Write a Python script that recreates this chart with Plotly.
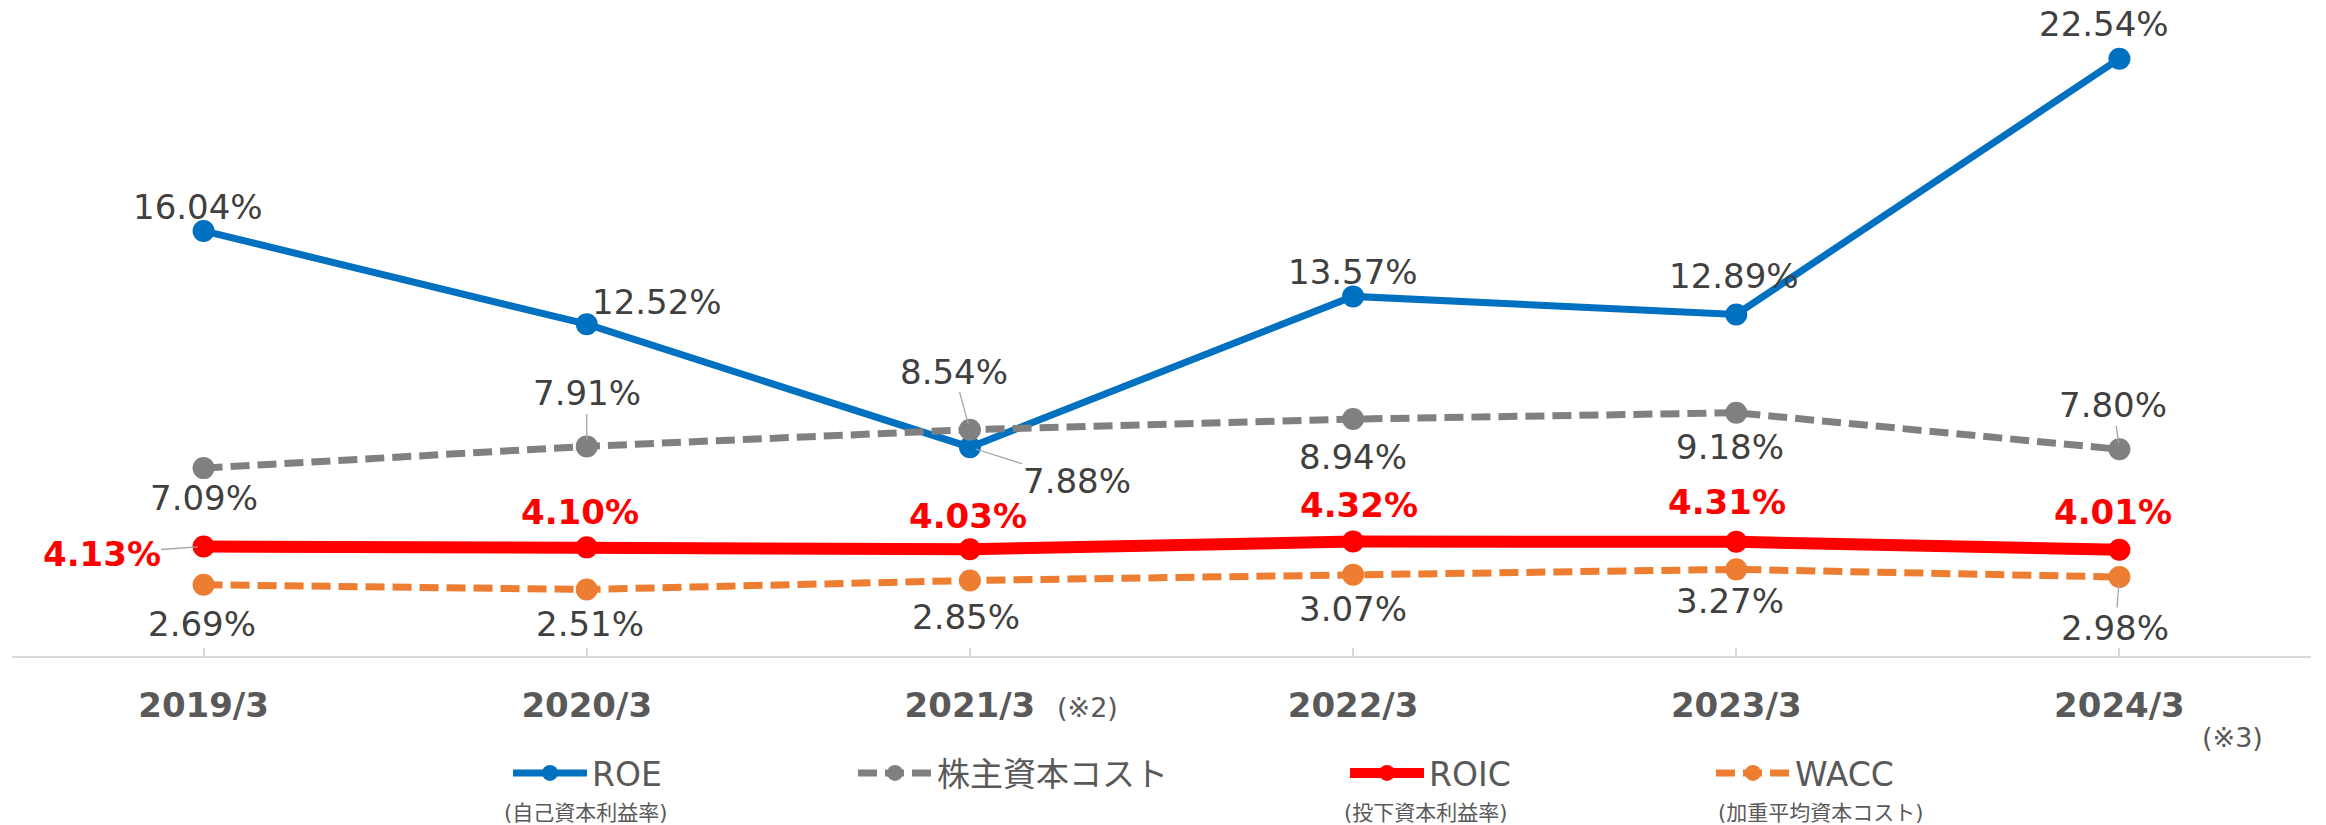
import plotly.graph_objects as go

# ---- data ----
categories = ["2019/3", "2020/3", "2021/3", "2022/3", "2023/3", "2024/3"]
roe = [16.04, 12.52, 7.88, 13.57, 12.89, 22.54]
cost_of_equity = [7.09, 7.91, 8.54, 8.94, 9.18, 7.80]
roic = [4.13, 4.10, 4.03, 4.32, 4.31, 4.01]
wacc = [2.69, 2.51, 2.85, 3.07, 3.27, 2.98]
series_names = ["ROE", "株主資本コスト", "ROIC", "WACC"]
series_notes = ["(自己資本利益率)", "", "(投下資本利益率)", "(加重平均資本コスト)"]
tick_notes = [("2021/3", "(※2)"), ("2024/3", "(※3)")]

# ---- styles / label placement (screen px offsets, +dy = down) ----
W, H = 2326, 825
ML, MR, MT, MB = 12, 15, 10, 169
colors = ["#0070C0", "#808080", "#FF0000", "#ED7D31"]
widths = [7, 7, 12, 7]
dashes = ["solid", "19px,8px", "solid", "19px,8px"]
label_colors = ["#404040", "#404040", "#FF0000", "#404040"]
label_bold = [False, False, True, False]
offsets = [
    [(-6, -24), (70, -22), (107, 34), (0, -24), (-2, -38), (-15, -35)],
    [(0, 30), (0, -53), (-16, -58), (0, 38), (-6, 34), (-6, -44)],
    [(-102, 7), (-7, -35), (-2, -33), (6, -37), (-9, -40), (-6, -38)],
    [(-2, 39), (3, 35), (-4, 37), (0, 34), (-6, 32), (-4, 51)],
]
leaders = {(0, 2), (1, 1), (1, 2), (1, 5), (2, 0), (3, 5)}
legend_text_x = [593, 938, 1430, 1796]
legend_item_w = 74
note_x = [585, None, 1425, 1820]

FONT = "DejaVu Sans, Noto Sans CJK JP, sans-serif"
all_series = [roe, cost_of_equity, roic, wacc]
legend_ids = ["legend", "legend2", "legend3", "legend4"]

fig = go.Figure()
for i, vals in enumerate(all_series):
    fig.add_trace(go.Scatter(
        x=categories, y=vals, name=series_names[i], mode="lines+markers",
        line=dict(color=colors[i], width=widths[i], dash=dashes[i]),
        marker=dict(color=colors[i], size=22),
        legend=legend_ids[i], showlegend=True,
    ))

annotations = []
for i, vals in enumerate(all_series):
    for j, v in enumerate(vals):
        dx, dy = offsets[i][j]
        txt = f"{v:.2f}%"
        font = dict(family=FONT, size=34, color=label_colors[i],
                    weight="bold" if label_bold[i] else "normal")
        if (i, j) in leaders:
            annotations.append(dict(
                x=categories[j], y=v, text=txt, font=font, showarrow=True,
                ax=dx, ay=dy, arrowhead=0, arrowwidth=1.3, arrowcolor="#A6A6A6",
                standoff=6, borderpad=0))
        else:
            annotations.append(dict(
                x=categories[j], y=v, text=txt, font=font, showarrow=False,
                xshift=dx, yshift=-dy, xanchor="center", yanchor="middle"))

plot_w = W - ML - MR
plot_h = H - MT - MB
for i, note in enumerate(series_notes):
    if note:
        annotations.append(dict(
            xref="paper", yref="paper", x=(note_x[i] - ML) / plot_w,
            y=(H - MB - 813) / plot_h, text=note, showarrow=False,
            xanchor="center", yanchor="middle",
            font=dict(family=FONT, size=21, color="#595959")))

note_pos = [(118, 707), (113, 737)]
for (cat, txt), (dx, py) in zip(tick_notes, note_pos):
    annotations.append(dict(
        x=cat, xref="x", yref="paper", y=(H - MB - py) / plot_h, xshift=dx,
        text=txt, showarrow=False, xanchor="center", yanchor="middle",
        font=dict(family=FONT, size=27, color="#595959")))

layout_legends = {}
for i, lid in enumerate(legend_ids):
    layout_legends[lid] = dict(
        xref="container", yref="container",
        x=(legend_text_x[i] - legend_item_w - 11) / W, y=1 - 773 / H,
        xanchor="left", yanchor="middle", orientation="h",
        itemwidth=legend_item_w,
        bgcolor="rgba(0,0,0,0)", borderwidth=0,
        font=dict(family=FONT, size=33, color="#595959"))

top_val = (H - MB - MT) / 26.5
fig.update_layout(
    width=W, height=H,
    margin=dict(l=ML, r=MR, t=MT, b=MB),
    paper_bgcolor="white", plot_bgcolor="white",
    hovermode=False,
    annotations=annotations,
    xaxis=dict(type="category", range=[-0.5, 5.5], showgrid=False,
               showline=True, linecolor="#D9D9D9", linewidth=2,
               ticks="inside", ticklen=8, tickcolor="#D9D9D9", tickwidth=1.5,
               tickfont=dict(family=FONT, size=34, color="#595959", weight="bold"),
               ticklabelstandoff=18, zeroline=False),
    yaxis=dict(range=[0, top_val], visible=False, showgrid=False, zeroline=False),
    **layout_legends,
)

fig.write_html("out.html", config={"displayModeBar": False},
               post_script="document.body.style.margin='0px';")
